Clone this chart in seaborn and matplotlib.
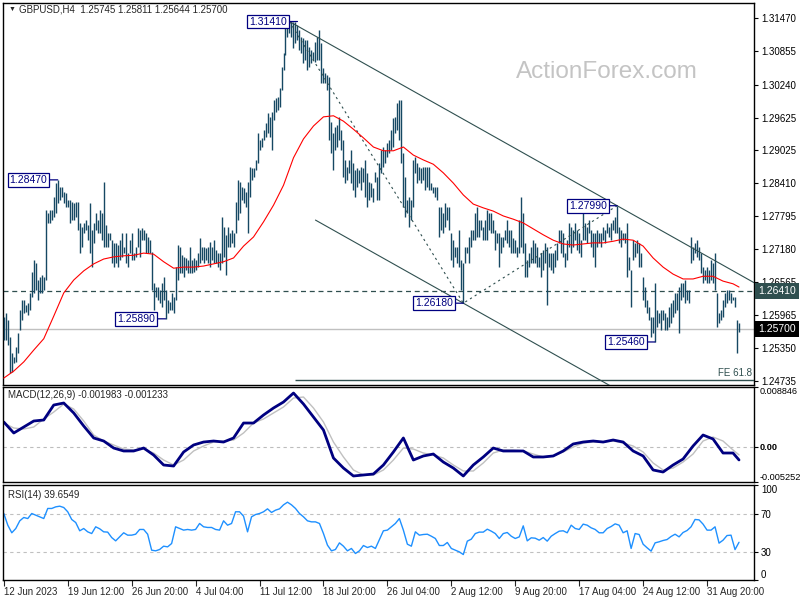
import matplotlib
matplotlib.use("Agg")
import matplotlib.pyplot as plt
import seaborn as sns
import pandas as pd

# H4 bars, 12 Jun 2023 - 4 Sep 2023 (high / low of every bar)
highs = [
    1.2592, 1.2600, 1.2587, 1.2555, 1.2525, 1.2518, 1.2537, 1.2563, 1.2605, 1.2624,
    1.2624, 1.2615, 1.2618, 1.2637, 1.2676, 1.2698, 1.2693, 1.2661, 1.2667, 1.2670,
    1.2667, 1.2791, 1.2785, 1.2791, 1.2791, 1.2815, 1.2841, 1.2847, 1.2834, 1.2834,
    1.2825, 1.2823, 1.2810, 1.2810, 1.2806, 1.2804, 1.2806, 1.2806, 1.2767, 1.2759,
    1.2767, 1.2772, 1.2763, 1.2804, 1.2754, 1.2767, 1.2785, 1.2772, 1.2791, 1.2785,
    1.2843, 1.2763, 1.2748, 1.2748, 1.2735, 1.2730, 1.2730, 1.2726, 1.2735, 1.2748,
    1.2722, 1.2748, 1.2711, 1.2735, 1.2748, 1.2711, 1.2722, 1.2758, 1.2754, 1.2758,
    1.2754, 1.2748, 1.2741, 1.2735, 1.2713, 1.2655, 1.2648, 1.2648, 1.2642, 1.2655,
    1.2667, 1.2642, 1.2624, 1.2620, 1.2637, 1.2629, 1.2685, 1.2726, 1.2722, 1.2707,
    1.2704, 1.2702, 1.2698, 1.2722,
    1.2698, 1.2702, 1.2698, 1.2711, 1.2739, 1.2722, 1.2722, 1.2720, 1.2722, 1.2732,
    1.2722, 1.2735, 1.2717, 1.2711, 1.2711, 1.2778, 1.2759, 1.2745, 1.2759, 1.2748,
    1.2754, 1.2748, 1.2806, 1.2847, 1.2843, 1.2834, 1.2832, 1.2825, 1.2843, 1.2871,
    1.2869, 1.2869, 1.2884, 1.2934, 1.2921, 1.2925, 1.2940, 1.2953, 1.2971, 1.2964,
    1.2973, 1.2995, 1.2999, 1.3001, 1.3018, 1.3057, 1.3083, 1.3131, 1.3140, 1.3141,
    1.3140, 1.3140, 1.3140, 1.3135, 1.3125, 1.3112, 1.3110, 1.3107, 1.3107, 1.3094,
    1.3088, 1.3084, 1.3103, 1.3112, 1.3125, 1.3101, 1.3055, 1.3045, 1.3042, 1.3038,
    1.2954, 1.2934, 1.2945, 1.2949, 1.2964, 1.2940, 1.2921, 1.2884, 1.2871, 1.2884,
    1.2902, 1.2878, 1.2865, 1.2869, 1.2865, 1.2871, 1.2869, 1.2884, 1.2860, 1.2843,
    1.2841, 1.2832,
    1.2862, 1.2852, 1.2878, 1.2902, 1.2908, 1.2902, 1.2915, 1.2921, 1.2940, 1.2962,
    1.2964, 1.2990, 1.2995, 1.2995, 1.2897, 1.2852, 1.2810, 1.2815, 1.2810, 1.2884,
    1.2890, 1.2878, 1.2871, 1.2869, 1.2871, 1.2871, 1.2871, 1.2871, 1.2841, 1.2834,
    1.2834, 1.2834, 1.2797, 1.2797, 1.2785, 1.2804, 1.2797, 1.2797, 1.2748, 1.2735,
    1.2722, 1.2722, 1.2754, 1.2698, 1.2693, 1.2722, 1.2722, 1.2741, 1.2754, 1.2754,
    1.2785, 1.2797, 1.2772, 1.2772, 1.2759, 1.2772, 1.2791, 1.2785, 1.2785, 1.2772,
    1.2754, 1.2748, 1.2748, 1.2741, 1.2741, 1.2754, 1.2772, 1.2754, 1.2754, 1.2739,
    1.2735, 1.2722, 1.2772, 1.2815, 1.2785, 1.2730, 1.2698, 1.2711, 1.2722, 1.2735,
    1.2730, 1.2722, 1.2704, 1.2711, 1.2717, 1.2730, 1.2722, 1.2711, 1.2711, 1.2711,
    1.2717, 1.2730,
    1.2754, 1.2754, 1.2748, 1.2711, 1.2735, 1.2767, 1.2759, 1.2754, 1.2767, 1.2754,
    1.2748, 1.2735, 1.2785, 1.2767, 1.2759, 1.2772, 1.2754, 1.2748, 1.2748, 1.2754,
    1.2748, 1.2748, 1.2759, 1.2754, 1.2767, 1.2759, 1.2767, 1.2772, 1.2778, 1.2799,
    1.2759, 1.2754, 1.2748, 1.2748, 1.2767, 1.2704, 1.2680, 1.2735, 1.2730, 1.2735,
    1.2730, 1.2711, 1.2667, 1.2648, 1.2624, 1.2611, 1.2592, 1.2592, 1.2655, 1.2605,
    1.2600, 1.2605, 1.2605, 1.2600, 1.2592, 1.2611, 1.2618, 1.2624, 1.2637, 1.2637,
    1.2648, 1.2655, 1.2655, 1.2661, 1.2642, 1.2642, 1.2741, 1.2722, 1.2730, 1.2735,
    1.2722, 1.2711, 1.2685, 1.2680, 1.2685, 1.2680, 1.2698, 1.2693, 1.2711, 1.2637,
    1.2600, 1.2605, 1.2624, 1.2637, 1.2642, 1.2642, 1.2637, 1.2629, 1.2629, 1.2587,
    1.2581,
]
lows = [
    1.2550, 1.2550, 1.2540, 1.2488, 1.2490, 1.2507, 1.2509, 1.2525, 1.2568, 1.2587,
    1.2600, 1.2602, 1.2596, 1.2605, 1.2629, 1.2637, 1.2642, 1.2624, 1.2637, 1.2637,
    1.2642, 1.2661, 1.2767, 1.2767, 1.2772, 1.2778, 1.2785, 1.2804, 1.2810, 1.2815,
    1.2804, 1.2797, 1.2797, 1.2767, 1.2772, 1.2772, 1.2778, 1.2754, 1.2711, 1.2722,
    1.2748, 1.2754, 1.2735, 1.2711, 1.2685, 1.2730, 1.2754, 1.2748, 1.2748, 1.2735,
    1.2722, 1.2722, 1.2722, 1.2735, 1.2693, 1.2685, 1.2693, 1.2685, 1.2698, 1.2704,
    1.2711, 1.2693, 1.2685, 1.2711, 1.2698, 1.2698, 1.2704, 1.2722, 1.2704, 1.2735,
    1.2735, 1.2711, 1.2711, 1.2711, 1.2642, 1.2605, 1.2629, 1.2624, 1.2618, 1.2611,
    1.2624, 1.2589, 1.2600, 1.2605, 1.2605, 1.2600, 1.2624, 1.2661, 1.2674, 1.2674,
    1.2667, 1.2680, 1.2674, 1.2674,
    1.2674, 1.2676, 1.2680, 1.2685, 1.2693, 1.2698, 1.2693, 1.2698, 1.2693, 1.2685,
    1.2698, 1.2693, 1.2693, 1.2685, 1.2680, 1.2693, 1.2704, 1.2670, 1.2722, 1.2722,
    1.2730, 1.2722, 1.2748, 1.2772, 1.2785, 1.2810, 1.2804, 1.2797, 1.2748, 1.2815,
    1.2847, 1.2852, 1.2865, 1.2878, 1.2902, 1.2908, 1.2921, 1.2927, 1.2934, 1.2927,
    1.2902, 1.2958, 1.2973, 1.2977, 1.2982, 1.3014, 1.3051, 1.3079, 1.3112, 1.3120,
    1.3112, 1.3092, 1.3101, 1.3107, 1.3088, 1.3083, 1.3064, 1.3070, 1.3051, 1.3057,
    1.3064, 1.3070, 1.3066, 1.3070, 1.3070, 1.3027, 1.3027, 1.3027, 1.3014, 1.2921,
    1.2897, 1.2865, 1.2902, 1.2908, 1.2921, 1.2902, 1.2852, 1.2841, 1.2847, 1.2860,
    1.2841, 1.2828, 1.2815, 1.2834, 1.2841, 1.2828, 1.2843, 1.2815, 1.2797, 1.2810,
    1.2815, 1.2806,
    1.2843, 1.2810, 1.2810, 1.2860, 1.2871, 1.2878, 1.2890, 1.2897, 1.2902, 1.2908,
    1.2934, 1.2940, 1.2921, 1.2878, 1.2797, 1.2778, 1.2785, 1.2759, 1.2772, 1.2797,
    1.2860, 1.2841, 1.2847, 1.2841, 1.2847, 1.2828, 1.2834, 1.2828, 1.2828, 1.2823,
    1.2815, 1.2810, 1.2741, 1.2754, 1.2748, 1.2759, 1.2772, 1.2754, 1.2698, 1.2685,
    1.2704, 1.2693, 1.2685, 1.2642, 1.2618, 1.2693, 1.2711, 1.2693, 1.2722, 1.2735,
    1.2735, 1.2741, 1.2741, 1.2754, 1.2735, 1.2735, 1.2735, 1.2754, 1.2748, 1.2748,
    1.2717, 1.2730, 1.2685, 1.2711, 1.2722, 1.2735, 1.2730, 1.2722, 1.2711, 1.2711,
    1.2711, 1.2704, 1.2711, 1.2722, 1.2711, 1.2667, 1.2667, 1.2685, 1.2693, 1.2693,
    1.2693, 1.2685, 1.2685, 1.2667, 1.2680, 1.2693, 1.2615, 1.2685, 1.2680, 1.2674,
    1.2685, 1.2698,
    1.2730, 1.2711, 1.2704, 1.2685, 1.2698, 1.2722, 1.2711, 1.2722, 1.2735, 1.2717,
    1.2711, 1.2704, 1.2735, 1.2735, 1.2730, 1.2748, 1.2722, 1.2704, 1.2685, 1.2722,
    1.2730, 1.2722, 1.2735, 1.2730, 1.2748, 1.2741, 1.2735, 1.2754, 1.2748, 1.2748,
    1.2730, 1.2722, 1.2735, 1.2730, 1.2667, 1.2680, 1.2611, 1.2698, 1.2704, 1.2711,
    1.2685, 1.2685, 1.2624, 1.2611, 1.2600, 1.2587, 1.2555, 1.2563, 1.2546, 1.2574,
    1.2581, 1.2568, 1.2587, 1.2568, 1.2568, 1.2574, 1.2581, 1.2592, 1.2600, 1.2605,
    1.2563, 1.2624, 1.2629, 1.2618, 1.2624, 1.2618, 1.2693, 1.2698, 1.2711, 1.2704,
    1.2698, 1.2674, 1.2655, 1.2661, 1.2655, 1.2655, 1.2661, 1.2655, 1.2642, 1.2574,
    1.2581, 1.2587, 1.2592, 1.2611, 1.2618, 1.2624, 1.2618, 1.2624, 1.2611, 1.2525,
    1.2564,
]

# moving average, MACD and signal sampled every 5 bars (last one is the final bar)
line_idx = list(range(0, 370, 5)) + [368]
ma_vals = [
    1.2479, 1.2492, 1.2509, 1.2531, 1.2552, 1.2594, 1.2637, 1.2661, 1.2678, 1.2691,
    1.2700, 1.2704, 1.2706, 1.2707, 1.2711, 1.2709, 1.2695, 1.2683, 1.2685, 1.2685,
    1.2687, 1.2691, 1.2695, 1.2702, 1.2724, 1.2741, 1.2769, 1.2800, 1.2837, 1.2888,
    1.2923, 1.2947, 1.2964, 1.2966, 1.2956, 1.2941, 1.2925, 1.2908, 1.2901, 1.2901,
    1.2908, 1.2893, 1.2884, 1.2876, 1.2860, 1.2841, 1.2819, 1.2802, 1.2795, 1.2789,
    1.2780, 1.2774, 1.2767, 1.2756, 1.2745, 1.2735, 1.2728, 1.2726, 1.2728, 1.2730,
    1.2730, 1.2733, 1.2737, 1.2735, 1.2724, 1.2702, 1.2685, 1.2672, 1.2663, 1.2663,
    1.2668, 1.2668, 1.2659, 1.2654, 1.2648,
]
macd_vals = [
    0.00365, 0.00202, 0.00291, 0.00380, 0.00395, 0.00617, 0.00647, 0.00499, 0.00306, 0.00128,
    0.00083, -0.00021, -0.00065, -0.00065, -0.00021, -0.00125, -0.00273, -0.00288, -0.00080, 0.00024,
    0.00068, 0.00083, 0.00068, 0.00128, 0.00350, 0.00350, 0.00469, 0.00573, 0.00662, 0.00795,
    0.00632, 0.00439, 0.00246, -0.00169, -0.00318, -0.00436, -0.00421, -0.00407, -0.00273, -0.00080,
    0.00128, -0.00199, -0.00139, -0.00110, -0.00229, -0.00318, -0.00436, -0.00273, -0.00154, -0.00021,
    -0.00065, -0.00065, -0.00065, -0.00154, -0.00154, -0.00139, -0.00065, 0.00039, 0.00068, 0.00083,
    0.00068, 0.00098, 0.00068, -0.00065, -0.00139, -0.00347, -0.00377, -0.00273, -0.00184, 0.00009,
    0.00172, 0.00113, -0.00095, -0.00095, -0.00198,
]
signal_vals = [
    0.00350, 0.00276, 0.00261, 0.00291, 0.00410, 0.00513, 0.00632, 0.00558, 0.00380, 0.00172,
    0.00083, 0.00024, -0.00036, -0.00050, -0.00036, -0.00095, -0.00199, -0.00273, -0.00199, -0.00065,
    0.00009, 0.00068, 0.00083, 0.00098, 0.00202, 0.00350, 0.00410, 0.00499, 0.00588, 0.00721,
    0.00736, 0.00573, 0.00365, 0.00068, -0.00154, -0.00347, -0.00421, -0.00421, -0.00347, -0.00199,
    -0.00021, -0.00036, -0.00095, -0.00125, -0.00169, -0.00273, -0.00362, -0.00362, -0.00243, -0.00095,
    -0.00050, -0.00050, -0.00065, -0.00110, -0.00154, -0.00139, -0.00080, -0.00006, 0.00053, 0.00068,
    0.00068, 0.00083, 0.00053, 0.00009, -0.00080, -0.00243, -0.00347, -0.00318, -0.00229, -0.00110,
    0.00083, 0.00142, 0.00083, -0.00050, -0.00123,
]

# RSI(14) sampled every 2 bars
rsi_idx = list(range(0, 369, 2))
rsi_vals = [
    70.0, 57.7, 49.7, 54.2, 62.3, 65.8, 64.7, 70.0, 68.2, 66.5,
    64.7, 75.3, 75.3, 77.0, 77.7, 76.3, 71.8, 63.7, 60.5, 51.8,
    54.2, 50.7, 48.9, 56.0, 53.9, 50.7, 50.4, 44.7, 41.2, 45.4,
    49.7, 47.2, 47.2, 48.2, 53.2, 53.2, 48.2, 31.4, 30.7, 32.1,
    35.6, 34.9, 38.4, 56.0, 54.2, 52.5, 53.2, 52.5, 53.2, 59.5,
    56.0, 55.3, 55.3, 53.2, 52.5, 62.3, 57.7, 59.5, 71.8, 71.8,
    67.2, 50.7, 66.5, 68.9, 70.0, 71.8, 74.9, 71.1, 73.5, 74.9,
    79.1, 81.9, 79.1, 75.3, 70.0, 66.5, 62.3, 61.2, 61.2, 59.5,
    48.9, 36.7, 30.7, 32.1, 39.1, 35.6, 30.7, 33.2, 27.9, 30.7,
    36.3, 34.2, 35.6, 33.2, 42.6, 51.8, 52.5, 56.0, 59.5, 64.7,
    52.5, 37.7, 35.6, 50.7, 47.2, 47.9, 48.2, 46.1, 43.7, 36.3,
    36.3, 39.5, 33.2, 31.4, 29.6, 26.8, 40.9, 43.0, 48.9, 50.4,
    50.4, 53.5, 51.4, 48.9, 43.7, 48.9, 50.0, 46.1, 43.7, 45.4,
    57.0, 41.2, 44.4, 44.0, 41.9, 44.7, 40.9, 46.1, 48.9, 51.4,
    51.8, 49.7, 57.7, 54.2, 53.2, 58.8, 57.7, 54.9, 53.2, 49.7,
    49.7, 54.2, 56.3, 59.1, 57.7, 49.7, 51.8, 33.2, 48.9, 47.9,
    37.7, 33.9, 30.4, 39.1, 40.2, 41.6, 42.6, 45.8, 48.2, 45.4,
    50.0, 52.1, 56.0, 63.7, 63.3, 58.8, 52.5, 52.5, 56.0, 38.8,
    41.9, 46.8, 47.2, 32.0, 39.7,
]

# swing labels (bar index, price)
swing_idx = [147, 27, 81, 230, 307, 326]
swing_price = [1.3141, 1.2847, 1.2589, 1.2618, 1.2799, 1.2546]

date_labels = ["12 Jun 2023", "19 Jun 12:00", "26 Jun 20:00", "4 Jul 04:00",
               "11 Jul 12:00", "18 Jul 20:00", "26 Jul 04:00", "2 Aug 12:00",
               "9 Aug 20:00", "17 Aug 04:00", "24 Aug 12:00", "31 Aug 20:00"]
price_ticks = [1.31470, 1.30855, 1.30240, 1.29625, 1.29025, 1.28410,
               1.27795, 1.27180, 1.26565, 1.25965, 1.25350, 1.24735]
support_level = 1.2641
last_price = 1.2570

bars = pd.DataFrame({"high": highs, "low": lows})
bars["idx"] = range(len(bars))

sns.set_style("white")
plt.rcParams["font.family"] = ["Liberation Sans", "DejaVu Sans"]
plt.rcParams["font.size"] = 7

BAR = "#164863"
SLATE = "#2F4F4F"
NAVY = "#000080"
FS = 7

fig = plt.figure(figsize=(8, 6), dpi=100)
ax1 = fig.add_axes([3 / 800, 1 - 385 / 600, 751 / 800, 382 / 600])
ax2 = fig.add_axes([3 / 800, 1 - 482 / 600, 751 / 800, 95 / 600])
ax3 = fig.add_axes([3 / 800, 1 - 580 / 600, 751 / 800, 95 / 600])
xlim = (-0.4, 375.5)

for ax in (ax1, ax2, ax3):
    ax.set_xlim(*xlim)
    for s in ax.spines.values():
        s.set_color("black")
        s.set_linewidth(1)
    ax.yaxis.tick_right()
    ax.tick_params(axis="y", direction="out", length=3, width=0.8, pad=2,
                   labelsize=FS, colors="black", right=True, left=False)
    ax.set_xlabel("")
    ax.set_ylabel("")

# ---- main price panel ----
ax1.text(0.804, 0.82, "ActionForex.com", transform=ax1.transAxes, fontsize=17.5,
         color="#C4C4C4", ha="center", va="center", zorder=0)
ax1.vlines(bars["idx"], bars["low"], bars["high"], color=BAR, lw=1.0, zorder=3)
sns.lineplot(x=line_idx, y=ma_vals, ax=ax1, color="red", lw=0.8, zorder=4, errorbar=None)

ax1.axhline(support_level, color=SLATE, lw=0.9, ls=(0, (4, 3)), zorder=2)
ax1.axhline(last_price, color="#C0C0C0", lw=1, zorder=2)

# channel from the two swing highs, lower line through the swing low
i1, p1 = swing_idx[0] - 4, swing_price[0]
i2, p2 = swing_idx[3], swing_price[3]
i3, p3 = swing_idx[4], swing_price[4]
slope = (p3 - p1) / (i3 - i1)
ax1.plot([i1, xlim[1]], [p1, p1 + slope * (xlim[1] - i1)], color=SLATE, lw=0.8, zorder=3)
ax1.plot([156, 320], [p2 + slope * (156 - i2), p2 + slope * (320 - i2)], color=SLATE, lw=0.8, zorder=3)
ax1.plot([i1, i2, i3], [p1, p2, p3], color=SLATE, lw=0.8, ls=(0, (2, 3)), zorder=3)
fe = p3 - 0.618 * (p1 - p2)
ax1.hlines(fe, i1 + 3, xlim[1], color=SLATE, lw=1, zorder=3)
ax1.text(374.5, fe + 0.0003, "FE 61.8", color=SLATE, fontsize=FS, ha="right", va="bottom")

for i, p in zip(swing_idx, swing_price):
    ax1.annotate(f"{p:.5f}", xy=(i, p), xytext=(-7.5, 0), textcoords="offset points",
                 ha="right", va="center", color=NAVY, fontsize=7.5, zorder=6,
                 bbox=dict(boxstyle="square,pad=0.18", fc="white", ec=NAVY, lw=0.9),
                 arrowprops=dict(arrowstyle="-", color=NAVY, lw=0.9, shrinkA=0, shrinkB=0))

ax1.set_ylim(1.24661, 1.31754)
ax1.set_yticks(price_ticks)
ax1.set_yticklabels([f"{t:.5f}" for t in price_ticks])
ax1.set_xticks([])

ytr = ax1.get_yaxis_transform()
ax1.text(1.006, support_level, f"{support_level:.5f}", transform=ytr, ha="left", va="center",
         color="white", fontsize=7.5, clip_on=False, zorder=10,
         bbox=dict(boxstyle="square,pad=0.3", fc=SLATE, ec="none"))
ax1.text(1.006, last_price, f"{last_price:.5f}", transform=ytr, ha="left", va="center",
         color="white", fontsize=7.5, clip_on=False, zorder=10,
         bbox=dict(boxstyle="square,pad=0.3", fc="black", ec="none"))

ax1.text(0.007, 0.984, "\u25BC", transform=ax1.transAxes, fontsize=5, va="center", ha="left")
ax1.text(0.021, 0.984, "GBPUSD,H4  1.25745 1.25811 1.25644 1.25700", transform=ax1.transAxes,
         fontsize=FS, va="center", ha="left")

# ---- MACD panel ----
ax2.axhline(0, color="#BDBDBD", lw=0.8, ls=(0, (3, 3)), zorder=1)
sns.lineplot(x=line_idx, y=signal_vals, ax=ax2, color="#C0C0C0", lw=1, errorbar=None)
sns.lineplot(x=line_idx, y=macd_vals, ax=ax2, color=NAVY, lw=2, errorbar=None)
ax2.set_ylim(-0.005252, 0.008846)
ax2.set_yticks([0.008846, 0.0, -0.005252])
ax2.set_yticklabels(["0.008846", "0.00", "-0.005252"])
ax2.tick_params(axis="y", labelsize=6.6, pad=1)
tl = ax2.get_yticklabels()
tl[0].set_va("top")
tl[1].set_fontweight("bold")
tl[2].set_va("bottom")
ax2.set_xticks([])
ax2.text(0.006, 0.92, "MACD(12,26,9) -0.001983 -0.001233",
         transform=ax2.transAxes, fontsize=FS, va="center", ha="left")

# ---- RSI panel ----
ax3.axhline(70, color="#C0C0C0", lw=0.8, ls=(0, (3, 3)))
ax3.axhline(30, color="#C0C0C0", lw=0.8, ls=(0, (3, 3)))
sns.lineplot(x=rsi_idx, y=rsi_vals, ax=ax3, color="#1E90FF", lw=1, errorbar=None)
ax3.set_ylim(0, 100)
ax3.set_yticks([100, 70, 30, 0])
ax3.set_yticklabels(["100", "70", "30", "0"])
tl = ax3.get_yticklabels()
tl[0].set_va("top")
tl[3].set_va("bottom")
ax3.text(0.006, 0.9, "RSI(14) 39.6549", transform=ax3.transAxes, fontsize=FS, va="center", ha="left")

ax3.set_xticks(list(range(0, 353, 32)))
ax3.set_xticklabels(date_labels, ha="left")
ax3.tick_params(axis="x", direction="out", length=4, width=0.8, pad=1, labelsize=FS, bottom=True)
ax3.set_xlim(*xlim)

fig.savefig("out.png", dpi=100)
